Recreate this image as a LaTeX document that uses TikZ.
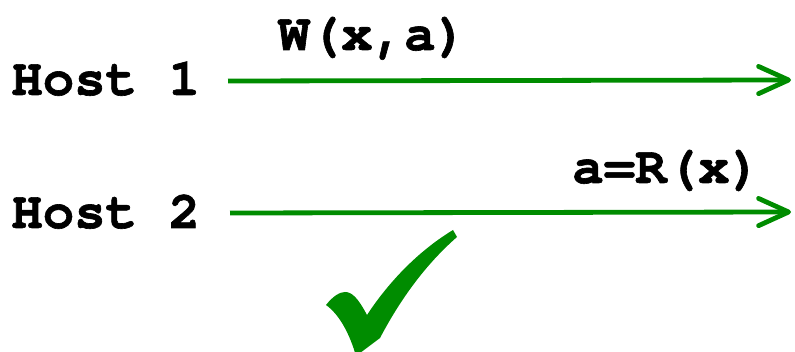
\documentclass[tikz,border=0pt]{standalone}
\usepackage{fontspec}
\setmonofont[BoldFeatures={FakeBold=1.2}]{TeX Gyre Cursor}
\usepackage{tikz}
\usetikzlibrary{arrows.meta}
\definecolor{okgreen}{RGB}{0,140,0}
\tikzset{
  hostlbl/.style={anchor=base west,inner sep=0pt,font=\fontsize{37.3}{42}\selectfont\ttfamily\bfseries},
  msglbl/.style={anchor=base west,inner sep=0pt,font=\fontsize{37.3}{42}\selectfont\ttfamily\bfseries},
  msg/.style={okgreen,line width=1.2mm,-{Straight Barb[length=7.5mm,width=6.8mm,line cap=round,line join=round]}}
}
\begin{document}
\begin{tikzpicture}[x=0.025cm,y=-0.025cm]
\useasboundingbox (0,0) rectangle (795,352);

\node[hostlbl] (host1) at (11,95) {Host 1};
\node[hostlbl] (host2) at (11,228) {Host 2};

\coordinate (s1) at (228,81);
\coordinate (e1) at (791,80);
\coordinate (s2) at (230,213);
\coordinate (e2) at (791,212);

\draw[msg] (s1) -- (e1); %write
\draw[msg] (s2) -- (e2); %read

\node[msglbl] (write) at (278,50) {W(x,a)};
\node[msglbl] (read) at (572,183) {a=R(x)};

% check mark
\fill[okgreen] (326,305) .. controls (333,296) and (340,292) .. (345,292)
  .. controls (352,292) and (358,298) .. (367,315)
  .. controls (390,280) and (420,250) .. (453,230) -- (457,237)
  .. controls (425,265) and (400,300) .. (380,338) -- (356,356)
  .. controls (350,335) and (340,315) .. (326,305) -- cycle;
\end{tikzpicture}
\end{document}
